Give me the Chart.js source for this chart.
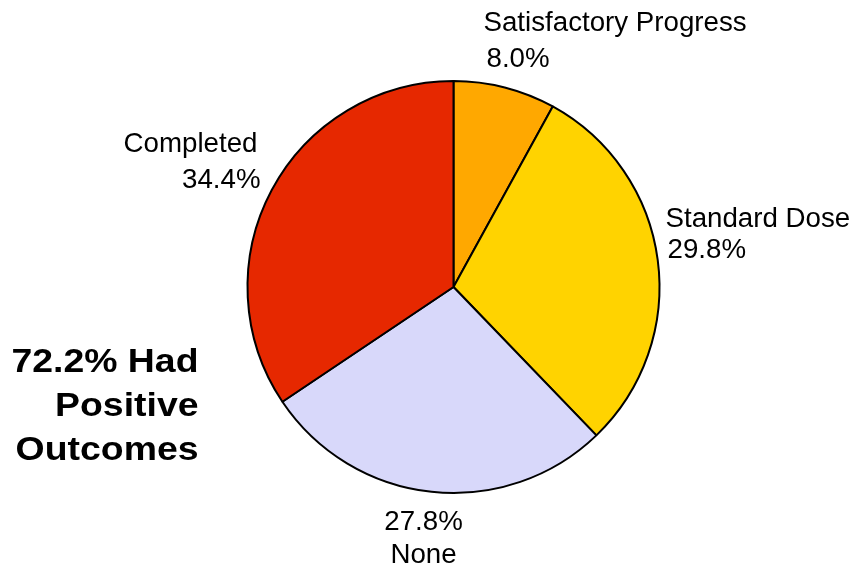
<!DOCTYPE html>
<html>
<head>
<meta charset="utf-8">
<script src="https://cdn.jsdelivr.net/npm/chart.js@4.4.0/dist/chart.umd.min.js"></script>
<style>
  html, body { margin: 0; padding: 0; background: #fff; }
  #wrap { width: 856px; height: 569px; position: relative; }
</style>
</head>
<body>
<div id="wrap"><canvas id="pie"></canvas></div>
<script>
/* DATA */
const categories = ["Satisfactory Progress", "Standard Dose", "None", "Completed"];
const shares = [8.0, 29.8, 27.8, 34.4];
const sliceColors = ["#FFA800", "#FFD300", "#D8D8FA", "#E62800"];
const headline = ["72.2% Had", "Positive", "Outcomes"];

/* LABEL PLACEMENT (relative to pie centre) */
const labelSpots = [
  { dx: 30, dy: -264, gap: 36, align: "left", pctFirst: false, pctShift: 3 },
  { dx: 212, dy: -68, gap: 31, align: "left", pctFirst: false, pctShift: 2 },
  { dx: -30, dy: 235, gap: 33, align: "center", pctFirst: true, pctShift: 0 },
  { dx: -196, dy: -143, gap: 36, align: "right", pctFirst: false, pctShift: 3 },
];

const outsideLabels = {
  id: "outsideLabels",
  afterDraw(chart) {
    const ctx = chart.ctx;
    const arc = chart.getDatasetMeta(0).data[0];
    const cx = arc.x, cy = arc.y;
    ctx.save();
    ctx.fillStyle = "#000";
    ctx.textBaseline = "middle";
    ctx.font = "27.7px 'Liberation Sans', Arial, sans-serif";
    categories.forEach((name, i) => {
      const s = labelSpots[i];
      const pct = shares[i].toFixed(1) + "%";
      const lines = s.pctFirst ? [pct, name] : [name, pct];
      ctx.textAlign = s.align;
      lines.forEach((t, k) => {
        const shift = (t === pct ? s.pctShift : 0);
        ctx.fillText(t, cx + s.dx + shift, cy + s.dy + k * s.gap);
      });
    });
    ctx.restore();

    // headline, slightly stretched like the original
    ctx.save();
    ctx.fillStyle = "#000";
    ctx.textBaseline = "middle";
    ctx.font = "bold 34px 'Liberation Sans', Arial, sans-serif";
    ctx.textAlign = "right";
    const stretch = 1.1;
    ctx.translate(cx - 255, cy + 76);
    ctx.scale(stretch, 1);
    headline.forEach((t, k) => {
      ctx.fillText(t, 0, k * 44);
    });
    ctx.restore();
  },
};

new Chart(document.getElementById("pie"), {
  type: "pie",
  data: {
    labels: categories,
    datasets: [
      {
        data: shares,
        backgroundColor: sliceColors,
        borderColor: "#000",
        borderWidth: 2,
      },
    ],
  },
  options: {
    responsive: true,
    maintainAspectRatio: false,
    animation: false,
    radius: 206,
    layout: { padding: { left: 51, top: 5, right: 0, bottom: 0 } },
    plugins: {
      legend: { display: false },
      tooltip: { enabled: false },
    },
  },
  plugins: [outsideLabels],
});
</script>
</body>
</html>
